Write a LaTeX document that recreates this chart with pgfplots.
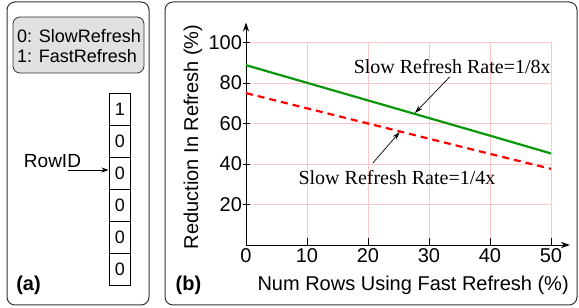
\documentclass[border=0pt]{standalone}
\usepackage{pgfplots}
\pgfplotsset{compat=1.18}
\usepackage{fontspec}
\setmainfont{Liberation Sans}
\newfontfamily\timesfont{Liberation Serif}
\usetikzlibrary{arrows.meta}
\definecolor{gridpink}{RGB}{255,200,200}
\definecolor{lgreen}{RGB}{10,150,10}
\definecolor{boxgray}{RGB}{225,225,225}
\definecolor{frame}{RGB}{50,50,50}
\begin{document}
\begin{tikzpicture}[x=1pt,y=1pt]
\path (0,0) rectangle (579,308);
% ---------- panel (a)
\draw[frame, line width=1pt, rounded corners=8pt] (7,3) rectangle (149,306);
\draw[frame, line width=0.8pt, fill=boxgray, rounded corners=7pt] (13,235) rectangle (144,291);
\node[anchor=west, inner sep=0pt, font=\fontsize{18}{20}\selectfont] at (17,272) {0: SlowRefresh};
\node[anchor=west, inner sep=0pt, font=\fontsize{18}{20}\selectfont] at (17,252) {1: FastRefresh};
\foreach \i/\v in {0/1,1/0,2/0,3/0,4/0,5/0}{
  \draw[black, line width=0.8pt] (109,{215-32*\i}) rectangle (130,{183-32*\i});
  \node[font=\fontsize{18}{20}\selectfont] at (120,{199-32*\i}) {\v};
}
\node[font=\fontsize{19}{21}\selectfont] at (52.5,147) {RowID};
\draw[line width=0.8pt, -{Stealth[length=7pt,width=5pt]}] (68,138) -- (108.5,138);
\node[font=\fontsize{20}{22}\selectfont\bfseries] at (28.5,23) {(a)};
% ---------- panel (b)
\draw[frame, line width=1pt, rounded corners=8pt] (165,3) rectangle (577,306);
\node[font=\fontsize{20}{22}\selectfont\bfseries] at (188.5,23) {(b)};
\begin{axis}[
  at={(246pt,63pt)}, anchor=origin,
  scale only axis,
  width=305pt, height=202.5pt,
  xmin=0, xmax=50, ymin=0, ymax=100,
  axis lines=left,
  x axis line style={-{Stealth[length=9pt,width=6pt]}, shorten >=-19pt, line width=0.9pt},
  y axis line style={-{Stealth[length=9pt,width=6pt]}, shorten >=-20pt, line width=0.9pt},
  xtick={0,10,20,30,40,50},
  ytick={20,40,60,80,100},
  grid=major,
  major grid style={gridpink, line width=0.8pt},
  xtick align=inside,
  ytick align=center,
  major tick length=7pt,
  tick style={black, line width=0.8pt},
  ticklabel style={font=\fontsize{20}{22}\selectfont},
  yticklabel style={xshift=3pt},
  /pgf/number format/assume math mode=true,
  xlabel={Num Rows Using Fast Refresh (\%)},
  ylabel={Reduction In Refresh (\%)},
  label style={font=\fontsize{20}{22}\selectfont},
  xlabel style={at={(axis description cs:0.548,0)}, anchor=center, yshift=-40pt},
  ylabel style={at={(axis description cs:-0.174,0.534)}, anchor=center},
  clip=false,
]
\addplot[lgreen, line width=2.2pt] coordinates {(0,88.8) (10,80.1) (20,71.4) (30,62.7) (40,54.0) (50,45.2)};
\addplot[red, line width=2.2pt, dash pattern=on 7pt off 5pt] coordinates {(0,75) (10,67.5) (20,60) (30,52.5) (40,45) (50,37.6)};
\node[font=\timesfont\fontsize{20}{22}\selectfont] at (axis cs:33.8,87.9) {Slow Refresh Rate=1/8x};
\node[font=\timesfont\fontsize{20}{22}\selectfont] at (axis cs:24.75,33.1) {Slow Refresh Rate=1/4x};
\draw[line width=0.7pt, -{Stealth[length=8pt,width=5pt]}] (axis cs:33.4,83.0) -- (axis cs:27.7,65.2);
\draw[line width=0.7pt, -{Stealth[length=8pt,width=5pt]}] (axis cs:20.8,40.5) -- (axis cs:25.2,55.8);
\end{axis}
\end{tikzpicture}
\end{document}
